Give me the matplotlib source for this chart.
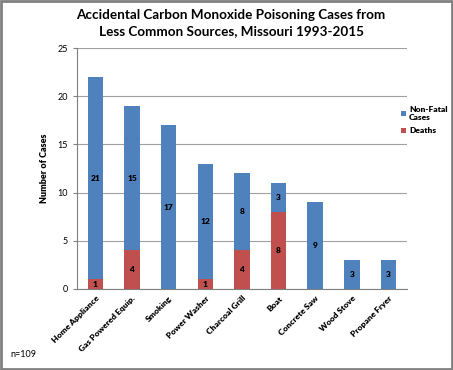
import matplotlib
matplotlib.use("Agg")
import matplotlib.pyplot as plt
import numpy as np

sources = ["Home Appliance", "Gas Powered Equip.", "Smoking", "Power Washer",
           "Charcoal Grill", "Boat", "Concrete Saw", "Wood Stove", "Propane Fryer"]
deaths = [1, 4, 0, 1, 4, 8, 0, 0, 0]
non_fatal = [21, 15, 17, 12, 8, 3, 9, 3, 3]

blue = "#4F81BD"
red = "#C0504D"
plt.rcParams["font.family"] = ["Lato", "DejaVu Sans"]

fig = plt.figure(figsize=(4.53, 3.70), dpi=100)
ax = fig.add_axes([0.170, 0.219, 0.728, 0.651])

x = np.arange(len(sources))
w = 0.42
b1 = ax.bar(x, deaths, w, color=red, label="Deaths", zorder=3)
b2 = ax.bar(x, non_fatal, w, bottom=deaths, color=blue, label="Non-Fatal\nCases", zorder=3)

# segment labels, skip empty ones
for i in range(len(sources)):
    if deaths[i] > 0:
        ax.text(x[i], deaths[i] / 2, str(deaths[i]), ha="center", va="center",
                fontsize=6, fontweight="heavy", zorder=4)
    if non_fatal[i] > 0:
        ax.text(x[i], deaths[i] + non_fatal[i] / 2, str(non_fatal[i]), ha="center",
                va="center", fontsize=6, fontweight="heavy", zorder=4)

ax.set_xlim(-0.5, len(sources) - 0.5)
ax.set_ylim(0, 25)
ax.set_yticks([0, 5, 10, 15, 20, 25])
ax.yaxis.grid(True, color="#A0A0A0", linewidth=0.8, zorder=0)
ax.set_xticks(x)
ax.set_xticklabels(sources, rotation=45, ha="right", rotation_mode="anchor",
                   fontsize=6, fontweight="heavy")
ax.tick_params(axis="y", labelsize=6.5, length=3, color="#808080")
ax.tick_params(axis="x", length=0, pad=4)
for s in ["top", "right"]:
    ax.spines[s].set_visible(False)
ax.spines["left"].set_color("#808080")
ax.spines["bottom"].set_color("#808080")
ax.set_ylabel("Number of Cases", fontsize=6.5, fontweight="heavy", labelpad=6)

fig.suptitle("Accidental Carbon Monoxide Poisoning Cases from\nLess Common Sources, Missouri 1993-2015",
             x=0.51, y=0.975, fontsize=9.7, fontweight="bold", linespacing=1.35)

fig.legend([b2, b1], ["Non-Fatal\nCases", "Deaths"], loc="upper left",
           bbox_to_anchor=(0.868, 0.735), frameon=False,
           handlelength=0.6, handleheight=0.6, handletextpad=0.4,
           labelspacing=0.8, prop={"weight": "heavy", "size": 6})

fig.text(0.022, 0.035, "n=109", fontsize=6.5)

border = plt.Rectangle((0.002, 0.003), 0.995, 0.994, transform=fig.transFigure,
                       fill=False, edgecolor="#808080", linewidth=2)
fig.patches.append(border)

fig.savefig("out.png", dpi=100)
